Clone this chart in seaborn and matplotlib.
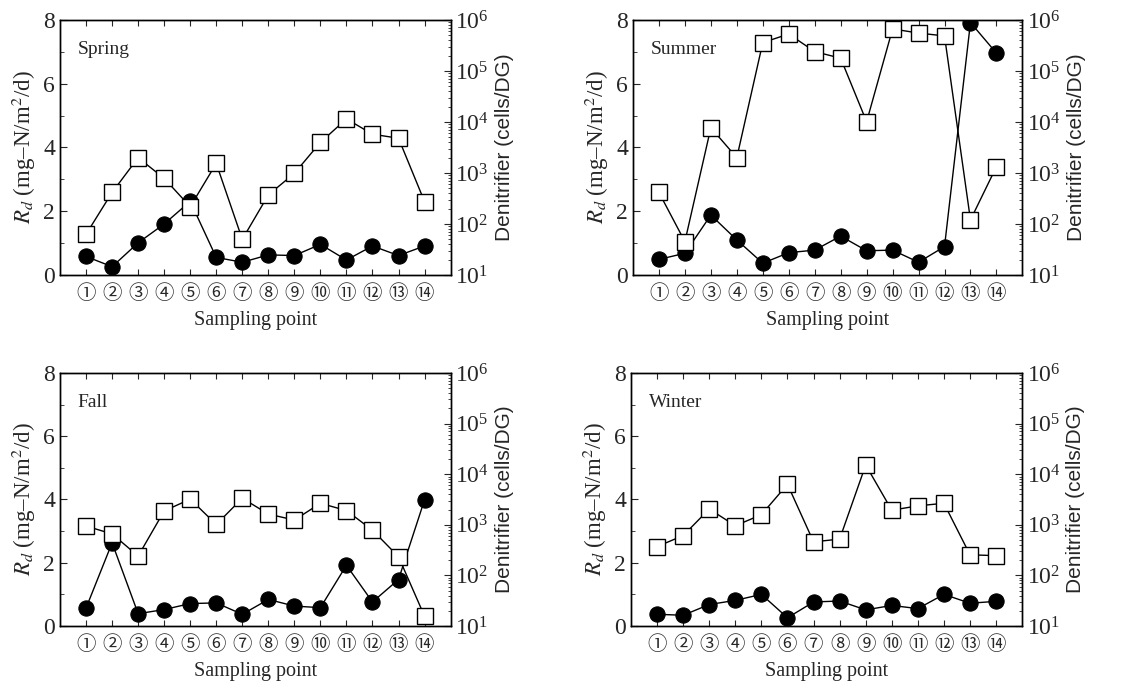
import numpy as np
import pandas as pd
import seaborn as sns
import matplotlib
matplotlib.use("Agg")
import matplotlib.pyplot as plt
from matplotlib.ticker import MultipleLocator, LogLocator, NullFormatter

# ---------------- data ----------------
points = list(range(1, 15))
point_labels = ["①", "②", "③", "④", "⑤", "⑥", "⑦", "⑧", "⑨", "⑩", "⑪", "⑫", "⑬", "⑭"]
seasons = ["Spring", "Summer", "Fall", "Winter"]

rd_spring = [0.58, 0.26, 1.01, 1.60, 2.31, 0.55, 0.40, 0.63, 0.61, 0.96, 0.47, 0.91, 0.61, 0.91]
rd_summer = [0.49, 0.68, 1.88, 1.10, 0.37, 0.70, 0.78, 1.22, 0.76, 0.78, 0.40, 0.89, 7.92, 6.96]
rd_fall = [0.57, 2.63, 0.39, 0.52, 0.71, 0.73, 0.37, 0.84, 0.63, 0.58, 1.92, 0.76, 1.47, 3.99]
rd_winter = [0.37, 0.34, 0.68, 0.81, 1.00, 0.26, 0.76, 0.79, 0.51, 0.65, 0.55, 1.00, 0.72, 0.78]

den_spring = [63, 416, 1995, 783, 218, 1540, 50, 371, 985, 3980, 11500, 5760, 4800, 274]
den_summer = [416, 45, 7720, 1995, 360000, 531000, 240000, 178000, 10100, 668000, 554000, 487000, 120, 1330]
den_fall = [944, 660, 241, 1880, 3210, 1015, 3350, 1630, 1240, 2660, 1910, 783, 234, 15.6]
den_winter = [371, 613, 2050, 958, 1585, 6310, 460, 522, 15200, 1940, 2370, 2660, 255, 246]

rd_all = [rd_spring, rd_summer, rd_fall, rd_winter]
den_all = [den_spring, den_summer, den_fall, den_winter]

# ---------------- style ----------------
sns.set_style("ticks")
plt.rcParams["font.family"] = ["Liberation Serif", "Noto Sans CJK JP", "DejaVu Sans"]
plt.rcParams["mathtext.fontset"] = "stix"
plt.rcParams["xtick.direction"] = "in"
plt.rcParams["ytick.direction"] = "in"
plt.rcParams["axes.edgecolor"] = "black"
plt.rcParams["axes.linewidth"] = 1.0

fig = plt.figure(figsize=(11.37, 6.82), dpi=100)

positions = [
    (0.0528, 0.5968, 0.3435, 0.3739),
    (0.5567, 0.5968, 0.3425, 0.3739),
    (0.0528, 0.0821, 0.3435, 0.3710),
    (0.5550, 0.0821, 0.3440, 0.3710),
]

for i, season in enumerate(seasons):
    ax = fig.add_axes(positions[i])
    df = pd.DataFrame({"point": points, "rd": rd_all[i], "den": den_all[i]})

    sns.lineplot(data=df, x="point", y="rd", ax=ax, color="black", linewidth=1.0,
                 marker="o", markersize=11, markerfacecolor="black",
                 markeredgecolor="black", zorder=3)
    ax.set_xlim(0, 15)
    ax.set_ylim(0, 8)
    ax.yaxis.set_major_locator(MultipleLocator(2))
    ax.yaxis.set_minor_locator(MultipleLocator(1))
    ax.set_xticks(points)
    ax.set_xticklabels(point_labels, fontsize=14,
                       family=["Noto Sans CJK JP", "DejaVu Sans"])
    ax.tick_params(axis="x", which="major", length=4, top=True, bottom=True, pad=6)
    ax.tick_params(axis="y", which="major", length=5, labelsize=17, right=False)
    ax.tick_params(axis="y", which="minor", length=3, right=False)
    ax.set_xlabel("Sampling point", fontsize=14.5, labelpad=5)
    ax.set_ylabel("$R_d$ (mg–N/m$^2$/d)", fontsize=16.5, labelpad=4)
    ax.text(0.045, 0.885, season, transform=ax.transAxes, fontsize=14,
            ha="left", va="center")

    ax2 = ax.twinx()
    sns.lineplot(data=df, x="point", y="den", ax=ax2, color="black", linewidth=1.0,
                 marker="s", markersize=12, markerfacecolor="white",
                 markeredgecolor="black", markeredgewidth=1.0, zorder=3)
    ax2.set_yscale("log")
    ax2.set_ylim(10, 1e6)
    ax2.yaxis.set_major_locator(LogLocator(base=10, numticks=10))
    ax2.yaxis.set_minor_locator(LogLocator(base=10, subs=np.arange(2, 10), numticks=20))
    ax2.yaxis.set_minor_formatter(NullFormatter())
    ax2.tick_params(axis="y", which="major", length=5, labelsize=17)
    ax2.tick_params(axis="y", which="minor", length=2.5)
    ax2.set_ylabel("Denitrifier (cells/DG)", fontsize=15,
                   family=["Liberation Sans"], labelpad=4)
    ax2.set_xlim(0, 15)
    for a in (ax, ax2):
        for s in a.spines.values():
            s.set_color("black")
            s.set_linewidth(1.0)

fig.savefig("out.png", dpi=100)
